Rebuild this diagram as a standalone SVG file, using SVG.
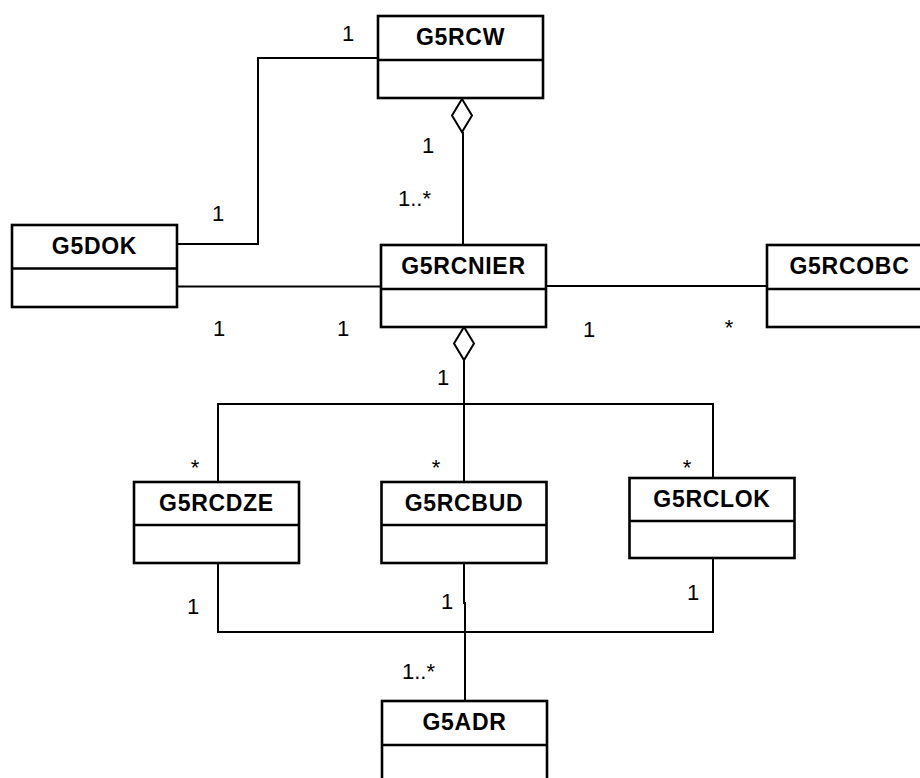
<svg xmlns="http://www.w3.org/2000/svg" width="920" height="778" viewBox="0 0 920 778">
<style>
.box{fill:#fff;stroke:#000;stroke-width:2.6}
.div{stroke:#000;stroke-width:2.6}
.t{font-family:"Liberation Sans",Arial,sans-serif;font-weight:bold;font-size:23px;letter-spacing:0.7px;text-anchor:middle;fill:#000}
.c{fill:none;stroke:#000;stroke-width:2}
.d{fill:#fff;stroke:#000;stroke-width:2}
.l{font-family:"Liberation Sans",Arial,sans-serif;font-size:22px;fill:#000}
.m{text-anchor:middle}
</style>
<rect width="920" height="778" fill="#fff"/>
<g id="connectors">
<polyline class="c" points="378,58 258,58 258,244 177,244"/>
<line class="c" x1="463" y1="132" x2="463" y2="245"/>
<polygon class="d" points="462,99 472,115.5 462,132 452,115.5"/>
<line class="c" x1="177" y1="286.5" x2="381" y2="286.5"/>
<line class="c" x1="546" y1="286" x2="767" y2="286"/>
<line class="c" x1="464" y1="360" x2="464" y2="482"/>
<polygon class="d" points="464,327 474,343.5 464,360 454,343.5"/>
<polyline class="c" points="218,482 218,404 713,404 713,478"/>
<polyline class="c" points="218,563 218,632 713,632 713,558"/>
<polyline class="c" points="464,563 464,603 465,603 465,701"/>
</g>
<g id="G5RCW">
<rect class="box" x="378" y="16" width="165" height="82"/>
<line class="div" x1="378" y1="60" x2="543" y2="60"/>
<text class="t" x="460.5" y="45">G5RCW</text>
</g>
<g id="G5DOK">
<rect class="box" x="12" y="225" width="165" height="82"/>
<line class="div" x1="12" y1="268.5" x2="177" y2="268.5"/>
<text class="t" x="94.5" y="254">G5DOK</text>
</g>
<g id="G5RCNIER">
<rect class="box" x="381" y="245" width="165" height="82"/>
<line class="div" x1="381" y1="289" x2="546" y2="289"/>
<text class="t" x="463.5" y="274">G5RCNIER</text>
</g>
<g id="G5RCOBC">
<rect class="box" x="767" y="245" width="165" height="82"/>
<line class="div" x1="767" y1="289" x2="932" y2="289"/>
<text class="t" x="849.5" y="274">G5RCOBC</text>
</g>
<g id="G5RCDZE">
<rect class="box" x="134" y="482" width="165" height="81"/>
<line class="div" x1="134" y1="525" x2="299" y2="525"/>
<text class="t" x="216.5" y="511">G5RCDZE</text>
</g>
<g id="G5RCBUD">
<rect class="box" x="381.5" y="482" width="165" height="81"/>
<line class="div" x1="381.5" y1="525" x2="546.5" y2="525"/>
<text class="t" x="464" y="511">G5RCBUD</text>
</g>
<g id="G5RCLOK">
<rect class="box" x="629.5" y="478" width="165" height="80"/>
<line class="div" x1="629.5" y1="521" x2="794.5" y2="521"/>
<text class="t" x="712" y="507">G5RCLOK</text>
</g>
<g id="G5ADR">
<rect class="box" x="382" y="701" width="165" height="82"/>
<line class="div" x1="382" y1="745" x2="547" y2="745"/>
<text class="t" x="464.5" y="730">G5ADR</text>
</g>
<g id="labels">
<text class="l m" x="348" y="41">1</text>
<text class="l m" x="428" y="153">1</text>
<text class="l" x="398" y="206">1..*</text>
<text class="l m" x="218" y="221">1</text>
<text class="l m" x="219" y="336">1</text>
<text class="l m" x="343" y="336">1</text>
<text class="l m" x="589" y="337">1</text>
<text class="l m" x="729" y="335">*</text>
<text class="l m" x="443" y="385">1</text>
<text class="l m" x="195" y="475">*</text>
<text class="l m" x="436" y="475">*</text>
<text class="l m" x="687" y="475">*</text>
<text class="l m" x="193" y="614">1</text>
<text class="l m" x="447" y="609">1</text>
<text class="l m" x="693" y="600">1</text>
<text class="l" x="402" y="679">1..*</text>
</g>
</svg>
